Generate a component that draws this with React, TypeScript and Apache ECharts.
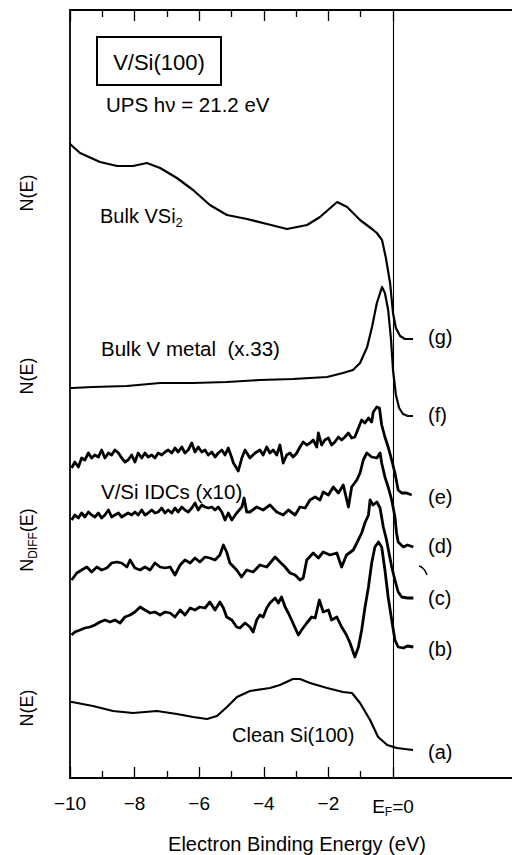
import React, { useEffect, useRef } from "react";
import * as echarts from "echarts";

const FONT = '"Liberation Sans", Arial, Helvetica, sans-serif';

// Energy axis ticks (eV); 0 is the Fermi level
const xMin = -10;
const xMax = 0;
const xInterval = 2;
// spectra run a little past E_F
const dataXMax = 0.7;

// Curve labels, bottom to top
const curveNames = ["(a)", "(b)", "(c)", "(d)", "(e)", "(f)", "(g)"];

// Each curve: [binding energy (eV), vertical position (arb. units, offset spectra)]
const cleanSi: number[][] = [
  [-10, 76], [-9.94, 76], [-9.29, 72], [-8.67, 67], [-8.05, 65], [-7.31, 67], [-6.69, 64],
  [-6.19, 61], [-5.76, 59], [-5.45, 62], [-5.14, 71], [-4.83, 81], [-4.43, 87], [-3.81, 90],
  [-3.5, 93], [-3.1, 99], [-2.88, 99], [-2.57, 95], [-2.04, 90], [-1.55, 86], [-1.27, 85],
  [-1.02, 75], [-0.71, 58], [-0.46, 41], [-0.18, 33], [0.12, 30], [0.62, 28],
];

const idcB: number[][] = [
  [-9.95, 143], [-9.85, 146], [-9.69, 148], [-9.54, 150], [-9.38, 151], [-9.23, 153], [-9.07, 156],
  [-8.92, 158], [-8.76, 156], [-8.61, 158], [-8.45, 155], [-8.3, 161], [-8.14, 163], [-7.99, 166],
  [-7.83, 171], [-7.68, 168], [-7.52, 165], [-7.37, 166], [-7.21, 163], [-7.06, 166], [-6.9, 165],
  [-6.75, 161], [-6.59, 168], [-6.44, 163], [-6.28, 170], [-6.13, 168], [-5.98, 171], [-5.82, 170],
  [-5.67, 176], [-5.51, 168], [-5.36, 176], [-5.25, 170], [-5.15, 161], [-4.99, 158], [-4.84, 151],
  [-4.74, 150], [-4.58, 155], [-4.43, 151], [-4.33, 146], [-4.22, 158], [-4.12, 163], [-4.02, 161],
  [-3.91, 170], [-3.81, 175], [-3.65, 180], [-3.55, 175], [-3.45, 181], [-3.34, 171], [-3.24, 165],
  [-3.14, 158], [-3.03, 150], [-2.93, 143], [-2.83, 148], [-2.67, 155], [-2.52, 161], [-2.41, 160],
  [-2.28, 178], [-2.16, 166], [-2.0, 168], [-1.9, 158], [-1.74, 161], [-1.59, 151], [-1.44, 143],
  [-1.33, 135], [-1.18, 121], [-1.07, 131], [-0.97, 148], [-0.87, 170], [-0.76, 191], [-0.66, 215],
  [-0.56, 231], [-0.45, 236], [-0.35, 231], [-0.25, 208], [-0.15, 181], [-0.04, 158], [0.06, 138],
  [0.16, 131], [0.32, 130], [0.45, 132], [0.63, 131],
];

const idcC: number[][] = [
  [-9.95, 198], [-9.79, 205], [-9.64, 208], [-9.48, 211], [-9.33, 206], [-9.17, 211], [-9.02, 208],
  [-8.86, 210], [-8.71, 215], [-8.55, 216], [-8.4, 215], [-8.24, 211], [-8.14, 218], [-7.99, 210],
  [-7.83, 208], [-7.68, 211], [-7.52, 208], [-7.37, 215], [-7.21, 211], [-7.06, 210], [-6.9, 211],
  [-6.75, 203], [-6.59, 213], [-6.44, 218], [-6.28, 215], [-6.13, 220], [-5.98, 216], [-5.82, 221],
  [-5.67, 220], [-5.51, 218], [-5.36, 223], [-5.25, 233], [-5.15, 226], [-5.05, 215], [-4.84, 208],
  [-4.69, 201], [-4.53, 208], [-4.33, 206], [-4.12, 213], [-3.91, 211], [-3.65, 221], [-3.5, 216],
  [-3.34, 211], [-3.19, 205], [-3.03, 203], [-2.88, 198], [-2.78, 200], [-2.67, 218], [-2.47, 225],
  [-2.31, 220], [-2.16, 226], [-1.95, 223], [-1.74, 225], [-1.59, 211], [-1.44, 223], [-1.23, 228],
  [-1.12, 235], [-0.97, 245], [-0.87, 255], [-0.76, 263], [-0.71, 278], [-0.62, 273], [-0.5, 276],
  [-0.4, 270], [-0.3, 251], [-0.2, 238], [-0.04, 211], [0.06, 198], [0.16, 186], [0.27, 181],
  [0.45, 180], [0.63, 180],
];

const idcD: number[][] = [
  [-9.95, 258], [-9.85, 263], [-9.74, 260], [-9.64, 265], [-9.54, 261], [-9.43, 266], [-9.33, 263],
  [-9.23, 261], [-9.12, 265], [-9.02, 260], [-8.92, 263], [-8.81, 268], [-8.71, 261], [-8.61, 263],
  [-8.5, 265], [-8.4, 261], [-8.3, 263], [-8.2, 265], [-8.09, 263], [-7.99, 266], [-7.89, 263],
  [-7.78, 268], [-7.68, 263], [-7.58, 265], [-7.47, 268], [-7.37, 265], [-7.27, 266], [-7.16, 270],
  [-7.06, 265], [-6.96, 268], [-6.85, 265], [-6.75, 270], [-6.65, 266], [-6.54, 271], [-6.44, 268],
  [-6.34, 266], [-6.23, 270], [-6.13, 275], [-6.03, 268], [-5.92, 273], [-5.82, 271], [-5.72, 270],
  [-5.61, 271], [-5.51, 268], [-5.41, 271], [-5.3, 266], [-5.2, 258], [-5.1, 265], [-4.99, 258],
  [-4.84, 265], [-4.68, 271], [-4.61, 280], [-4.53, 266], [-4.43, 266], [-4.22, 271], [-4.02, 268],
  [-3.81, 273], [-3.6, 266], [-3.4, 263], [-3.24, 268], [-3.03, 263], [-2.88, 271], [-2.72, 270],
  [-2.57, 278], [-2.41, 281], [-2.26, 278], [-2.16, 286], [-2.0, 283], [-1.85, 291], [-1.69, 285],
  [-1.54, 293], [-1.38, 271], [-1.28, 291], [-1.12, 298], [-1.02, 305], [-0.92, 318], [-0.81, 325],
  [-0.66, 321], [-0.5, 320], [-0.4, 325], [-0.35, 315], [-0.25, 301], [-0.15, 291], [-0.04, 278],
  [0.06, 261], [0.11, 245], [0.16, 236], [0.32, 231], [0.45, 233], [0.63, 231],
];

const idcE: number[][] = [
  [-9.95, 310], [-9.85, 316], [-9.74, 311], [-9.64, 320], [-9.54, 318], [-9.43, 325], [-9.33, 320],
  [-9.23, 323], [-9.12, 321], [-9.02, 328], [-8.92, 320], [-8.81, 325], [-8.71, 323], [-8.61, 328],
  [-8.5, 325], [-8.4, 320], [-8.3, 316], [-8.2, 318], [-8.09, 323], [-7.99, 316], [-7.89, 325],
  [-7.78, 320], [-7.68, 325], [-7.58, 321], [-7.47, 323], [-7.37, 320], [-7.27, 325], [-7.16, 323],
  [-7.06, 326], [-6.96, 328], [-6.85, 325], [-6.75, 330], [-6.65, 326], [-6.54, 331], [-6.44, 325],
  [-6.34, 328], [-6.23, 335], [-6.13, 326], [-6.03, 331], [-5.92, 326], [-5.82, 328], [-5.72, 323],
  [-5.61, 326], [-5.51, 321], [-5.41, 325], [-5.3, 328], [-5.2, 323], [-5.1, 330], [-4.99, 320],
  [-4.94, 315], [-4.79, 307], [-4.68, 320], [-4.58, 328], [-4.43, 320], [-4.27, 325], [-4.12, 328],
  [-4.02, 323], [-3.91, 331], [-3.81, 325], [-3.71, 328], [-3.6, 323], [-3.5, 333], [-3.4, 315],
  [-3.29, 323], [-3.19, 325], [-3.09, 321], [-2.98, 325], [-2.88, 331], [-2.78, 336], [-2.67, 333],
  [-2.57, 335], [-2.47, 338], [-2.36, 331], [-2.31, 345], [-2.21, 333], [-2.11, 338], [-2.0, 340],
  [-1.9, 333], [-1.8, 336], [-1.69, 341], [-1.59, 338], [-1.49, 341], [-1.38, 345], [-1.28, 340],
  [-1.18, 341], [-1.07, 350], [-0.97, 358], [-0.87, 355], [-0.76, 360], [-0.66, 356], [-0.61, 366],
  [-0.5, 371], [-0.42, 370], [-0.35, 353], [-0.25, 341], [-0.15, 331], [-0.04, 318], [0.06, 305],
  [0.16, 288], [0.27, 285], [0.42, 285], [0.58, 283],
];

const bulkVMetal: number[][] = [
  [-10, 390], [-9.94, 390], [-9.29, 391], [-8.24, 392], [-7.21, 395], [-6.19, 395], [-5.14, 396],
  [-4.12, 398], [-3.1, 399], [-2.04, 401], [-1.55, 405], [-1.24, 408], [-1.02, 415], [-0.8, 431],
  [-0.65, 451], [-0.5, 475], [-0.34, 491], [-0.25, 485], [-0.15, 468], [-0.06, 438], [0.0, 408],
  [0.09, 383], [0.19, 370], [0.31, 364], [0.46, 362], [0.62, 362],
];

const bulkVSi2: number[][] = [
  [-10, 634], [-9.69, 625], [-9.07, 616], [-8.54, 612], [-8.05, 612], [-7.62, 615], [-7.21, 610],
  [-6.69, 600], [-6.19, 588], [-5.67, 573], [-5.14, 563], [-4.52, 559], [-3.9, 554], [-3.28, 549],
  [-2.66, 553], [-2.26, 561], [-1.73, 576], [-1.42, 571], [-1.02, 558], [-0.65, 549], [-0.5, 545],
  [-0.34, 538], [-0.22, 520], [-0.09, 495], [0.0, 465], [0.09, 450], [0.22, 442], [0.37, 439],
  [0.62, 439],
];

const curves = [cleanSi, idcB, idcC, idcD, idcE, bulkVMetal, bulkVSi2];
const curveWidths = [2.2, 2.8, 2.8, 2.8, 2.8, 2.2, 2.2];

export default function App() {
  const ref = useRef<HTMLDivElement>(null);

  useEffect(() => {
    if (!ref.current) return;
    const chart = echarts.init(ref.current, undefined, { renderer: "svg" });

    const W = 512;
    const left = 70;
    const rightAxes = 119;
    const pxPerEv = (W - left - rightAxes) / (xMax - xMin);
    const rightData = W - left - pxPerEv * (dataXMax - xMin);

    const labelRich = {
      e: { fontSize: 19, fontFamily: FONT, color: "#000" },
      s: { fontSize: 12, fontFamily: FONT, color: "#000", padding: [12, 0, 0, 0] },
    };

    const tickLine = { color: "#000", width: 1.3 };
    const xBase = {
      type: "value",
      gridIndex: 0,
      min: xMin,
      max: xMax,
      interval: xInterval,
      splitLine: { show: false },
      axisLine: { show: true, onZero: false, lineStyle: { color: "#000", width: 1.8 } },
      axisTick: { show: true, inside: true, length: 11, lineStyle: tickLine },
      minorTick: { show: true, splitNumber: 2, length: 7, lineStyle: tickLine },
    };

    const text = (t: string, x: number, y: number, size = 20, align = "left", extra: any = {}) => ({
      type: "text",
      x,
      y,
      silent: true,
      ...extra,
      style: {
        text: t,
        fill: "#000",
        fontSize: size,
        fontFamily: FONT,
        align,
        verticalAlign: "middle",
      },
    });

    const labelYs = [752, 649, 598, 546, 497, 415, 337];

    const graphics: any[] = [
      { type: "line", silent: true, shape: { x1: 393, y1: 10, x2: 512, y2: 10 }, style: { stroke: "#000", lineWidth: 1.8 } },
      { type: "line", silent: true, shape: { x1: 393, y1: 778, x2: 512, y2: 778 }, style: { stroke: "#000", lineWidth: 1.8 } },
      { type: "rect", silent: true, shape: { x: 97, y: 37, width: 124, height: 48 }, style: { fill: "none", stroke: "#000", lineWidth: 2 } },
      text("V/Si(100)", 159, 62, 22, "center"),
      text("UPS h\u03bd = 21.2 eV", 106, 104, 20.5, "left"),
      {
        type: "text",
        x: 100,
        y: 216,
        silent: true,
        style: {
          text: "{a|Bulk VSi}{b|2}",
          fill: "#000",
          verticalAlign: "middle",
          rich: {
            a: { fontSize: 20, fontFamily: FONT, fill: "#000" },
            b: { fontSize: 13, fontFamily: FONT, fill: "#000", padding: [12, 0, 0, 0] },
          },
        },
      },
      text("Bulk V metal  (x.33)", 101, 348, 20.5, "left"),
      text("V/Si IDCs (x10)", 101, 491, 20.5, "left"),
      text("Clean Si(100)", 232, 735, 20, "left"),
      text("Electron Binding Energy (eV)", 297, 844, 20, "center"),
      text("N(E)", 27, 193, 18, "center", { rotation: Math.PI / 2 }),
      text("N(E)", 27, 376, 18, "center", { rotation: Math.PI / 2 }),
      {
        type: "text",
        x: 27,
        y: 540,
        rotation: Math.PI / 2,
        silent: true,
        style: {
          text: "{a|N}{b|DIFF}{a|(E)}",
          align: "center",
          verticalAlign: "middle",
          rich: {
            a: { fontSize: 18, fontFamily: FONT, fill: "#000" },
            b: { fontSize: 12, fontFamily: FONT, fill: "#000", padding: [12, 0, 0, 0] },
          },
        },
      },
      text("N(E)", 27, 708, 18, "center", { rotation: Math.PI / 2 }),
      {
        type: "bezierCurve",
        silent: true,
        shape: { x1: 419, y1: 566, x2: 427, y2: 575, cpx1: 424, cpy1: 567 },
        style: { stroke: "#000", lineWidth: 1.5, fill: "none" },
      },
      ...curveNames.map((n, i) => text(n, 428, labelYs[i], 20, "left")),
    ];

    chart.setOption({
      animation: false,
      backgroundColor: "#fff",
      grid: [
        { left, right: rightAxes, top: 10, bottom: 77, containLabel: false },
        { left, right: rightData, top: 10, bottom: 77, containLabel: false },
      ],
      xAxis: [
        {
          ...xBase,
          position: "bottom",
          axisLabel: {
            show: true,
            margin: 16,
            color: "#000",
            fontSize: 19,
            fontFamily: FONT,
            formatter: (v: number) => (v === 0 ? "{e|E}{s|F}{e|=0}" : "\u2212" + Math.abs(v)),
            rich: labelRich,
          },
        },
        { ...xBase, position: "top", axisLabel: { show: false } },
        { type: "value", gridIndex: 1, min: xMin, max: dataXMax, show: false },
      ],
      yAxis: [
        {
          type: "value",
          gridIndex: 0,
          min: 0,
          max: 768,
          position: "left",
          axisLine: { show: true, onZero: false, lineStyle: { color: "#000", width: 1.8 } },
          axisTick: { show: false },
          axisLabel: { show: false },
          splitLine: { show: false },
        },
        {
          type: "value",
          gridIndex: 0,
          min: 0,
          max: 768,
          position: "right",
          axisLine: { show: true, onZero: false, lineStyle: { color: "#000", width: 1.1 } },
          axisTick: { show: false },
          axisLabel: { show: false },
          splitLine: { show: false },
        },
        { type: "value", gridIndex: 1, min: 0, max: 768, show: false },
      ],
      series: curves.map((d, i) => ({
        type: "line",
        name: curveNames[i],
        xAxisIndex: 2,
        yAxisIndex: 2,
        data: d,
        showSymbol: false,
        symbol: "none",
        clip: false,
        silent: true,
        lineStyle: { color: "#000", width: curveWidths[i], join: "round" },
      })),
      graphic: graphics,
    });

    return () => chart.dispose();
  }, []);

  return (
    <div
      ref={ref}
      style={{ position: "fixed", left: 0, top: 0, width: 512, height: 855, background: "#fff" }}
    />
  );
}
